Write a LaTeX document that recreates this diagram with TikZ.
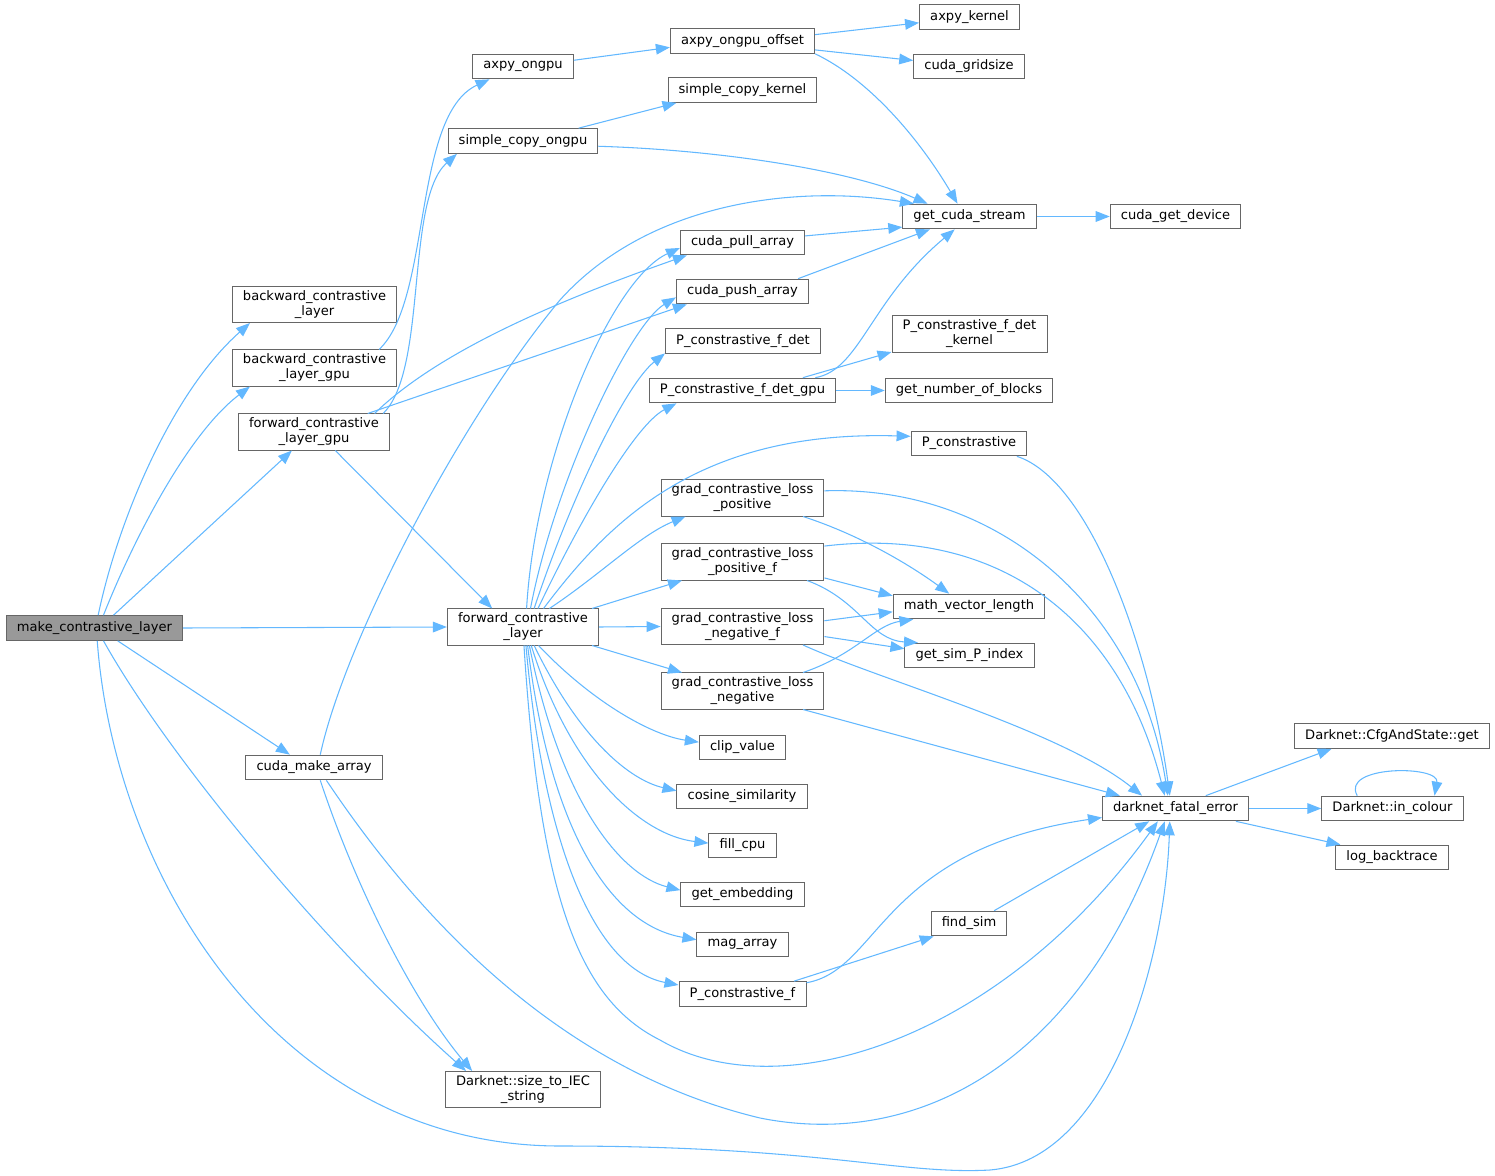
\documentclass[tikz,border=0pt]{standalone}
\usepackage{fontspec}
\setmainfont{DejaVu Sans}
\usetikzlibrary{arrows.meta}
\definecolor{edgeblue}{HTML}{63B8FF}
\definecolor{boxline}{HTML}{666666}
\definecolor{rootfill}{HTML}{999999}
\begin{document}
\begin{tikzpicture}[x=0.75pt,y=-0.75pt,
    box/.style={draw=boxline,line width=0.75pt,fill=white,inner xsep=8pt,inner ysep=3pt,minimum height=18.5pt,align=center,font=\fontsize{9.8}{11.25}\selectfont},
    rootbox/.style={box,fill=rootfill},
    edge/.style={draw=edgeblue,line width=0.8pt,-{Triangle[length=10.5pt,width=8pt]}}]
\useasboundingbox (0,0) rectangle (1495,1176);
\node[rootbox] (root) at (94.5,628) {make\_contrastive\_layer};
\node[box] (bcl) at (314.5,304.5) {backward\_contrastive\\\_layer};
\node[box] (bclg) at (314.5,368) {backward\_contrastive\\\_layer\_gpu};
\node[box] (fclg) at (314,432) {forward\_contrastive\\\_layer\_gpu};
\node[box] (cma) at (314,767.5) {cuda\_make\_array};
\node[box] (iec) at (523,1089.5) {Darknet::size\_to\_IEC\\\_string};
\node[box] (axo) at (523,66.5) {axpy\_ongpu};
\node[box] (sco) at (523,141) {simple\_copy\_ongpu};
\node[box] (fcl) at (523,627) {forward\_contrastive\\\_layer};
\node[box] (axoo) at (742.5,41) {axpy\_ongpu\_offset};
\node[box] (sck) at (742.5,90) {simple\_copy\_kernel};
\node[box] (pull) at (742.5,242.5) {cuda\_pull\_array};
\node[box] (push) at (742.5,291.5) {cuda\_push\_array};
\node[box] (pfd) at (743,341) {P\_constrastive\_f\_det};
\node[box] (pfdg) at (742.5,390.5) {P\_constrastive\_f\_det\_gpu};
\node[box] (gpos) at (742.5,498) {grad\_contrastive\_loss\\\_positive};
\node[box] (gposf) at (742.5,562) {grad\_contrastive\_loss\\\_positive\_f};
\node[box] (gnegf) at (742.5,626.5) {grad\_contrastive\_loss\\\_negative\_f};
\node[box] (gneg) at (742.5,691) {grad\_contrastive\_loss\\\_negative};
\node[box] (clip) at (742.5,747.5) {clip\_value};
\node[box] (cos) at (742,796.5) {cosine\_similarity};
\node[box] (fill) at (742.5,845.5) {fill\_cpu};
\node[box] (emb) at (742.5,894.5) {get\_embedding};
\node[box] (mag) at (742.5,944.5) {mag\_array};
\node[box] (pcf) at (742.5,994) {P\_constrastive\_f};
\node[box] (axk) at (969.5,17) {axpy\_kernel};
\node[box] (grid) at (969,66.5) {cuda\_gridsize};
\node[box] (gcs) at (969.5,216.5) {get\_cuda\_stream};
\node[box] (pfdk) at (969.5,334) {P\_constrastive\_f\_det\\\_kernel};
\node[box] (gnb) at (969,390.5) {get\_number\_of\_blocks};
\node[box] (pcon) at (969,443.5) {P\_constrastive};
\node[box] (mvl) at (969,606.5) {math\_vector\_length};
\node[box] (gsp) at (969.5,655.5) {get\_sim\_P\_index};
\node[box] (fsim) at (969,923.5) {find\_sim};
\node[box] (cgd) at (1175.5,216.5) {cuda\_get\_device};
\node[box] (dfe) at (1175.5,808.5) {darknet\_fatal\_error};
\node[box] (cfg) at (1392,736) {Darknet::CfgAndState::get};
\node[box] (inc) at (1392.5,808.5) {Darknet::in\_colour};
\node[box] (log) at (1392,857.5) {log\_backtrace};
\draw[edge] (root.74) .. controls (118,520) and (172,392) .. (bcl.-164);
\draw[edge] (root.55) .. controls (130,548) and (185,436) .. (bclg.-164);
\draw[edge] (root.34) -- (fclg.-140);
\draw[edge] (root.east) -- (fcl.west);
\draw[edge] (root.-29) -- (cma.152);
\draw[edge] (root.-55) .. controls (170,760) and (330,950) .. (iec.162);
\draw[edge] (root.-78) .. controls (115,880) and (280,1146) .. (560,1146) .. controls (820,1146) and (900,1175) .. (990,1170) .. controls (1110,1160) and (1165,960) .. (dfe.-114);
\draw[edge] (bclg.16) .. controls (432,300) and (412,115) .. (axo.-159);
\draw[edge] (fclg.15) .. controls (428,370) and (405,200) .. (sco.-169);
\draw[edge] (fclg.17) .. controls (440,350) and (560,300) .. (pull.-167);
\draw[edge] (fclg.19) -- (push.-167);
\draw[edge] (fclg.-41) -- (fcl.149);
\draw[edge] (cma.64) .. controls (345,640) and (460,420) .. (560,300) .. controls (650,200) and (800,185) .. (gcs.167);
\draw[edge] (cma.-64) .. controls (360,900) and (420,1010) .. (iec.160);
\draw[edge] (cma.-46) .. controls (420,920) and (560,1070) .. (760,1118) .. controls (920,1150) and (1080,1060) .. (dfe.-130);
\draw[edge] (axo.7) -- (axoo.-175);
\draw[edge] (axoo.5) -- (axk);
\draw[edge] (axoo.-7) -- (grid);
\draw[edge] (axoo.-10) .. controls (870,80) and (920,140) .. (gcs.133);
\draw[edge] (sco.13) -- (sck.-169);
\draw[edge] (sco.-4) .. controls (720,150) and (850,170) .. (gcs.163);
\draw[edge] (fcl.79) .. controls (535,460) and (610,280) .. (pull.-175);
\draw[edge] (fcl.68) .. controls (555,480) and (630,325) .. (push.-175);
\draw[edge] (fcl.59) .. controls (570,500) and (625,385) .. (pfd.-171);
\draw[edge] (fcl.51) .. controls (580,520) and (635,425) .. (pfdg.-169);
\draw[edge] (fcl.42) .. controls (610,520) and (700,430) .. (pcon.173);
\draw[edge] (fcl.35) .. controls (600,575) and (640,535) .. (gpos.-162);
\draw[edge] (fcl.15) -- (gposf.-163);
\draw[edge] (fcl.east) -- (gnegf.west);
\draw[edge] (fcl.-15) -- (gneg.163);
\draw[edge] (fcl.-50) .. controls (590,700) and (650,735) .. (clip.173);
\draw[edge] (fcl.-59) .. controls (580,740) and (630,780) .. (cos.175);
\draw[edge] (fcl.-66) .. controls (570,770) and (640,835) .. (fill.176);
\draw[edge] (fcl.-71) .. controls (560,800) and (620,875) .. (emb.176);
\draw[edge] (fcl.-76) .. controls (550,830) and (610,925) .. (mag.174);
\draw[edge] (fcl.-81) .. controls (545,860) and (600,970) .. (pcf.172);
\draw[edge] (fcl.-87) .. controls (540,900) and (580,1000) .. (660,1040) .. controls (780,1110) and (1000,1040) .. (dfe.-144);
\draw[edge] (pull.6) -- (gcs.-171);
\draw[edge] (push.13) -- (gcs.-162);
\draw[edge] (pfdg.10) .. controls (860,370) and (870,300) .. (gcs.-139);
\draw[edge] (pfdg.12) -- (pfdk.-167);
\draw[edge] (pfdg.east) -- (gnb.west);
\draw[edge] (gcs.east) -- (cgd.west);
\draw[edge] (pcon.-15) .. controls (1090,480) and (1150,650) .. (dfe.114);
\draw[edge] (gpos.5.5) .. controls (1000,485) and (1140,610) .. (dfe.121);
\draw[edge] (gpos.-17) .. controls (860,535) and (910,565) .. (mvl.147);
\draw[edge] (gposf.11) .. controls (1000,525) and (1120,620) .. (dfe.130);
\draw[edge] (gposf.-11.6) -- (mvl.172);
\draw[edge] (gposf.-16.5) .. controls (860,600) and (870,640) .. (gsp.166);
\draw[edge] (gnegf.4.5) -- (mvl.-176);
\draw[edge] (gnegf.-7) -- (gsp.174);
\draw[edge] (gnegf.-17) .. controls (880,680) and (1060,730) .. (dfe.159);
\draw[edge] (gneg.17) .. controls (855,655) and (875,625) .. (mvl.-167);
\draw[edge] (gneg.-17) -- (dfe.167);
\draw[edge] (pcf.14) -- (fsim.-160);
\draw[edge] (pcf.10) .. controls (880,970) and (880,850) .. (dfe.-173);
\draw[edge] (fsim.27.5) -- (dfe.-154);
\draw[edge] (dfe.23) -- (cfg.-168);
\draw[edge] (dfe.east) -- (inc.west);
\draw[edge] (dfe.-12) -- (log.166);
\draw[edge] (inc.160) .. controls (1340,765) and (1440,765) .. (inc.17);
\end{tikzpicture}
\end{document}
